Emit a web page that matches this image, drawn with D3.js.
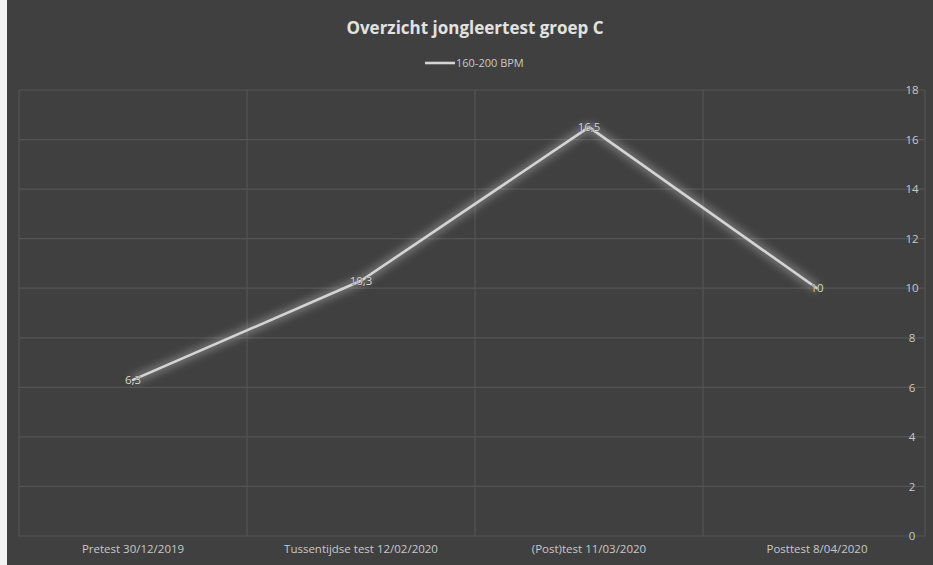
<!DOCTYPE html>
<html>
<head>
<meta charset="utf-8">
<script src="https://cdn.jsdelivr.net/npm/d3@7"></script>
<style>
  html, body { margin: 0; padding: 0; background: #404040; }
  svg { display: block; }
</style>
</head>
<body>
<svg id="chart" width="933" height="565"></svg>
<script>
// Chart data
const categories = ["Pretest 30/12/2019", "Tussentijdse test 12/02/2020", "(Post)test 11/03/2020", "Posttest 8/04/2020"];
const seriesName = "160-200 BPM";
const values = [6.3, 10.3, 16.5, 10];
const valueLabels = ["6,3", "10,3", "16,5", "10"];
const yTicks = [0, 2, 4, 6, 8, 10, 12, 14, 16, 18];
const title = "Overzicht jongleertest groep C";

const svg = d3.select("#chart");
const W = 933, H = 565;
const fontFamily = "'Open Sans', 'Liberation Sans', sans-serif";

// Background and light left edge
svg.append("rect").attr("width", W).attr("height", H).attr("fill", "#404040");
svg.append("rect").attr("x", 0).attr("y", 0).attr("width", 7).attr("height", H).attr("fill", "#f2f2f2");

const plot = { left: 19, right: 931, top: 90, bottom: 536 };

const x = d3.scaleBand().domain(categories).range([plot.left, plot.right]).padding(0);
const y = d3.scaleLinear().domain([0, 18]).range([plot.bottom, plot.top]);

// Glow filter for the line
const defs = svg.append("defs");
const glow = defs.append("filter").attr("id", "glow")
  .attr("x", "-10%").attr("y", "-20%").attr("width", "120%").attr("height", "140%");
glow.append("feGaussianBlur").attr("in", "SourceGraphic").attr("stdDeviation", 4).attr("result", "blur");
const merge = glow.append("feMerge");
merge.append("feMergeNode").attr("in", "blur");

// Horizontal gridlines
svg.append("g").selectAll("line").data(yTicks).join("line")
  .attr("x1", plot.left).attr("x2", 925)
  .attr("y1", d => y(d)).attr("y2", d => y(d))
  .attr("stroke", "#545454").attr("stroke-width", 1.2);

// Vertical gridlines at category boundaries
const boundaries = categories.map(c => x(c));
svg.append("g").selectAll("line").data(boundaries).join("line")
  .attr("x1", d => d).attr("x2", d => d)
  .attr("y1", plot.top).attr("y2", plot.bottom)
  .attr("stroke", "#545454").attr("stroke-width", 1.2);
svg.append("line")
  .attr("x1", 925).attr("x2", 925).attr("y1", plot.top).attr("y2", plot.bottom)
  .attr("stroke", "#545454").attr("stroke-width", 1.2);

// Right value axis labels
const yAxis = d3.axisRight(y).tickValues(yTicks).tickSize(0).tickPadding(0);
const gy = svg.append("g").attr("transform", `translate(912,0)`).call(yAxis);
gy.select(".domain").remove();
gy.selectAll("text")
  .attr("text-anchor", "middle")
  .attr("fill", "#c8c8c8")
  .style("font-family", fontFamily)
  .style("font-size", "11.5px");

// Category axis labels
const xAxis = d3.axisBottom(x).tickSize(0).tickPadding(0);
const gx = svg.append("g").attr("transform", `translate(0,545)`).call(xAxis);
gx.select(".domain").remove();
gx.selectAll("text")
  .attr("fill", "#c8c8c8")
  .style("font-family", fontFamily)
  .style("font-size", "11.5px");

// Line with glow
const lineGen = d3.line()
  .x((d, i) => x(categories[i]) + x.bandwidth() / 2)
  .y(d => y(d));

svg.append("path").datum(values)
  .attr("d", lineGen)
  .attr("fill", "none")
  .attr("stroke", "#ffffff")
  .attr("stroke-opacity", 0.35)
  .attr("stroke-width", 7)
  .attr("stroke-linejoin", "round")
  .attr("filter", "url(#glow)");

svg.append("path").datum(values)
  .attr("d", lineGen)
  .attr("fill", "none")
  .attr("stroke", "#d4d4d4")
  .attr("stroke-width", 2.6)
  .attr("stroke-linejoin", "round")
  .attr("stroke-linecap", "round");

// Data labels
svg.append("g").selectAll("text").data(values).join("text")
  .attr("x", (d, i) => x(categories[i]) + x.bandwidth() / 2)
  .attr("y", d => y(d) + 4)
  .attr("text-anchor", "middle")
  .attr("fill", "#d8d8d8")
  .attr("stroke", "#404040")
  .attr("stroke-width", 0.6)
  .attr("paint-order", "stroke")
  .style("font-family", fontFamily)
  .style("font-size", "11.5px")
  .text((d, i) => valueLabels[i]);

// Title
svg.append("text")
  .attr("x", 475).attr("y", 34)
  .attr("text-anchor", "middle")
  .attr("fill", "#e2e2e2")
  .style("font-family", fontFamily)
  .style("font-weight", "bold")
  .style("font-size", "17px")
  .text(title);

// Legend
const legend = svg.append("g");
legend.append("line")
  .attr("x1", 425).attr("x2", 455).attr("y1", 63).attr("y2", 63)
  .attr("stroke", "#d4d4d4").attr("stroke-width", 2.6);
legend.append("text")
  .attr("x", 456).attr("y", 67)
  .attr("fill", "#c8c8c8")
  .style("font-family", fontFamily)
  .style("font-size", "11px")
  .text(seriesName);
</script>
</body>
</html>
